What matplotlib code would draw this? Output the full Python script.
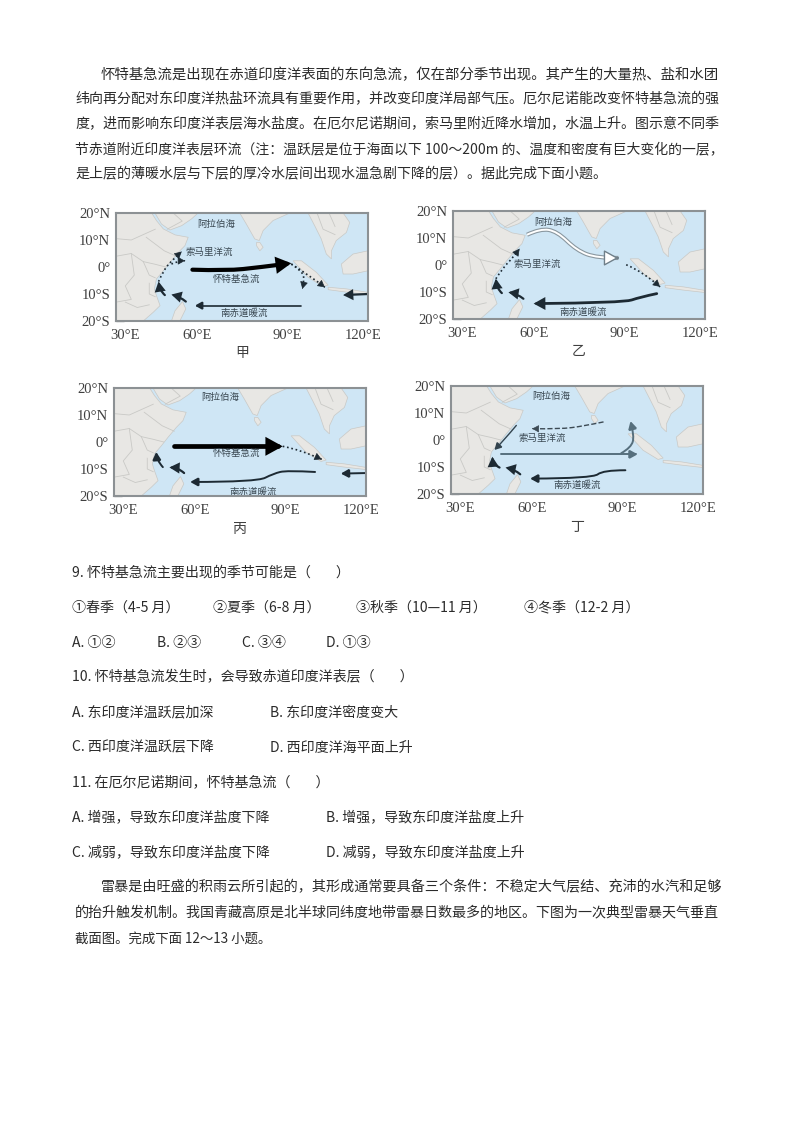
import matplotlib
matplotlib.use('Agg')
import matplotlib.pyplot as plt
from matplotlib.patches import FancyArrowPatch, Polygon
from matplotlib.path import Path

plt.rcParams['font.family'] = ['Noto Sans CJK SC', 'DejaVu Sans']

W, H = 800, 1132
TEXT_COLOR = '#2b2b2b'
LAND = '#e8e7e4'
SEA = '#cfe6f5'
BORDER = '#c9c9c6'
FRAME = '#8c9194'
CURRENT = '#1d2a33'

# ---- text of the page
intro_lines = [
    '怀特基急流是出现在赤道印度洋表面的东向急流，仅在部分季节出现。其产生的大量热、盐和水团',
    '纬向再分配对东印度洋热盐环流具有重要作用，并改变印度洋局部气压。厄尔尼诺能改变怀特基急流的强',
    '度，进而影响东印度洋表层海水盐度。在厄尔尼诺期间，索马里附近降水增加，水温上升。图示意不同季',
    '节赤道附近印度洋表层环流（注：温跃层是位于海面以下 100～200m 的、温度和密度有巨大变化的一层，',
    '是上层的薄暖水层与下层的厚冷水层间出现水温急剧下降的层）。据此完成下面小题。',
]
q9_title = '9. 怀特基急流主要出现的季节可能是（        ）'
q9_seasons = ['①春季（4-5 月）', '②夏季（6-8 月）', '③秋季（10—11 月）', '④冬季（12-2 月）']
q9_options = ['A. ①②', 'B. ②③', 'C. ③④', 'D. ①③']
q10_title = '10. 怀特基急流发生时，会导致赤道印度洋表层（        ）'
q10_options = ['A. 东印度洋温跃层加深', 'B. 东印度洋密度变大', 'C. 西印度洋温跃层下降', 'D. 西印度洋海平面上升']
q11_title = '11. 在厄尔尼诺期间，怀特基急流（        ）'
q11_options = ['A. 增强，导致东印度洋盐度下降', 'B. 增强，导致东印度洋盐度上升',
               'C. 减弱，导致东印度洋盐度下降', 'D. 减弱，导致东印度洋盐度上升']
outro_lines = [
    '雷暴是由旺盛的积雨云所引起的，其形成通常要具备三个条件：不稳定大气层结、充沛的水汽和足够',
    '的抬升触发机制。我国青藏高原是北半球同纬度地带雷暴日数最多的地区。下图为一次典型雷暴天气垂直',
    '截面图。完成下面 12～13 小题。',
]

# ---- map data, all (lon, lat)
africa = [(32.9, 20), (44.8, 20), (46.4, 17.2), (48.7, 14.1), (52.6, 11.9), (57, 11), (55.9, 7.9),
          (53.7, 5.4), (50.9, 1.7), (48.7, -1.4), (46.4, -4.4), (45.7, -8.1), (46.4, -10.6),
          (47.6, -14.3), (45.3, -16.8), (42, -20), (32.9, -20)]
arabia = [(45.9, 20), (48.1, 15.9), (50.9, 13.7), (54.8, 15.3), (58.1, 17.8), (60.3, 20)]
india = [(74.2, 20), (76.4, 15.9), (79.2, 10.4), (80.7, 9.8), (82, 13.5), (85.3, 17.2), (90.9, 20)]
sri_lanka = [(79.8, 9.1), (80.9, 9.1), (82, 7.3), (80.9, 6), (79.8, 7.9)]
indochina = [(97, 20), (99.2, 15.3), (101.4, 10.4), (103.1, 4.8), (104.8, 3), (104.8, 6), (106.4, 9.8),
             (109.8, 12.8), (110.9, 16.5), (108.7, 20)]
sumatra = [(92, 2.3), (94.8, 2.3), (99.8, -2), (103.7, -6.7), (102, -7.2), (97, -3.8)]
java = [(103.7, -7.5), (109.8, -8.1), (117, -9.4), (117, -10.2), (109.8, -9.3), (103.7, -8.4)]
borneo = [(108.1, 1.1), (112, 4.8), (117, 6), (117, -1.4), (112, -2.6), (108.7, -2.6)]
madagascar = [(51.4, -20), (52.6, -16.2), (55.1, -12.8), (56.2, -15.5), (54.2, -20)]
land_shapes = [africa, arabia, india, sri_lanka, indochina, sumatra, java, borneo, madagascar]

country_borders = [
    [(33, 10.5), (38, 10), (42, 12), (46, 14)],
    [(33, 4), (38, 5), (42, 2), (46, 1), (49.5, 0)],
    [(38, 5), (39, -3), (36, -7), (38, -12), (33, -13)],
    [(42, 2), (44, -3), (46, -4)],
    [(44, -6), (44, -10), (46, -11)],
    [(36, -13), (40, -15), (44, -14)],
    [(43, 11), (49, 6), (53, 4)],
    [(50, 14), (55, 17), (52, 20)],
    [(100, 20), (102, 14), (106, 12)],
    [(104, 20), (106, 15)],
]

lat_ticks = [-20, -10, 0, 10, 20]
lat_labels = ['20°S', '10°S', '0°', '10°N', '20°N']
lon_label_pos = [36, 60, 90, 115.4]
lon_labels = ['30°E', '60°E', '90°E', '120°E']
lon_marks = [60, 90]

# ---- currents, every panel: (points, line width, line style, colour)
jia_currents = [
    ([(47.1, -5.4), (48.7, -1.4), (51.4, 2.3), (54.8, 5.7)], 1.2, 'dotted', CURRENT),
    ([(51.4, 1.1), (53.7, 2.3), (55.9, 2.3)], 1.2, 'dotted', CURRENT),
    ([(49.2, -10.4), (47.6, -8.8), (47.1, -5.4)], 1.6, 'solid', CURRENT),
    ([(56.2, -12.8), (54.2, -11), (51.4, -10.2)], 1.6, 'solid', CURRENT),
    ([(94.8, -14.3), (59.2, -14.3)], 1.2, 'solid', CURRENT),
    ([(117, -10), (108.7, -10.4)], 1.6, 'solid', CURRENT),
    ([(58.4, -1), (69.8, -1.4), (80.9, -0.1), (91.4, 1.4)], 3.0, 'solid', '#000000'),
    ([(91.4, 1.1), (94.8, -1.4), (95.9, -4.4), (95.1, -8.1)], 1.2, 'dotted', CURRENT),
    ([(91.4, 1.1), (97.6, -3.2), (102.6, -7.5)], 1.2, 'dotted', CURRENT),
]
yi_currents = [
    ([(90.7, 0.1), (96.4, -2.6), (102, -8.1)], 1.2, 'dotted', CURRENT),
    ([(100.9, -10.6), (95.3, -11.9), (89.8, -14), (59.8, -14.3)], 2.0, 'solid', CURRENT),
    ([(47.2, -5.1), (49.8, -0.7), (52.6, 2.3), (55.1, 6)], 1.2, 'dotted', CURRENT),
    ([(49.2, -10.4), (47.6, -8.8), (47.2, -5.1)], 1.6, 'solid', CURRENT),
    ([(56.4, -12.5), (54.2, -10.6), (51.4, -10.1)], 1.6, 'solid', CURRENT),
]
yi_hollow = [(57.6, 11.2), (62, 13.5), (67.6, 12.5), (74.2, 5.4), (80.9, 2.6), (88.1, 2.6)]
bing_currents = [
    ([(53, -1.6), (89.2, -1.6)], 3.4, 'solid', '#000000'),
    ([(89.2, -1.6), (94.9, -2.8), (102.2, -6.4)], 1.2, 'dotted', CURRENT),
    ([(100, -11.1), (90.6, -10.5), (86.1, -11.7), (80.6, -14.8), (58.3, -14.8)], 1.4, 'solid', CURRENT),
    ([(117, -11.5), (108.6, -11.7)], 1.4, 'solid', CURRENT),
    ([(49.2, -9.3), (47.2, -6.8), (47, -3.7)], 1.4, 'solid', CURRENT),
    ([(56.3, -11.5), (54.4, -9.6), (51.4, -9.4)], 1.6, 'solid', CURRENT),
]
ding_currents = [
    ([(83.8, 6.7), (77.4, 5.2), (69.1, 4), (60, 4.2)], 1.0, 'dashed', '#3c4a54'),
    ([(49.7, -5.3), (95.2, -5.3)], 1.4, 'solid', '#566f7d'),
    ([(89.7, -4.9), (93, -2.8), (94.1, 1.5), (92.8, 7)], 1.4, 'solid', '#566f7d'),
    ([(54.7, 5.4), (50.8, 0.2), (47.4, -3.7)], 1.0, 'solid', '#33434d'),
    ([(49.1, -10.2), (46.9, -9), (46.7, -6.2)], 1.6, 'solid', CURRENT),
    ([(56, -12.7), (54.1, -10.9), (51.1, -10.2)], 1.6, 'solid', CURRENT),
    ([(91.1, -11.2), (83.6, -11.2), (80.2, -14.2), (59.3, -14.3)], 1.4, 'solid', CURRENT),
]

# ---- labels on the maps
jia_labels = [('阿拉伯海', 66.2, 15.6), ('索马里洋流', 64, 5.4), ('怀特基急流', 73.1, -4.4), ('南赤道暖流', 75.7, -17)]
yi_labels = [('阿拉伯海', 66.2, 15.9), ('索马里洋流', 61.1, 0.1), ('南赤道暖流', 76.2, -17.4)]
bing_labels = [('阿拉伯海', 68.3, 16.4), ('怀特基急流', 73.7, -4.3), ('南赤道暖流', 79.4, -18.5)]
ding_labels = [('阿拉伯海', 66.3, 16), ('索马里洋流', 63.3, 0.5), ('南赤道暖流', 75, -16.7)]

fig = plt.figure(figsize=(W / 100, H / 100), dpi=100, facecolor='white')
renderer = fig.canvas.get_renderer()


def page_text(x, y, s, right=None, size=10.1):
    '''y is the middle of the line in pixels, right stretches the line to that pixel'''
    t = fig.text(x / W, 1 - (y + 1.5) / H, s, va='center', ha='left', fontsize=size, color=TEXT_COLOR)
    if right is not None:
        width = t.get_window_extent(renderer).width
        t.set_fontsize(size * (right - x) / width)
    return t


def smooth_path(points):
    # quadratic pieces with the read points as control points
    if len(points) == 2:
        return Path(points, [Path.MOVETO, Path.LINETO])
    verts = [points[0]]
    codes = [Path.MOVETO]
    for i in range(1, len(points) - 1):
        end = points[i + 1]
        if i < len(points) - 2:
            end = ((points[i][0] + points[i + 1][0]) / 2, (points[i][1] + points[i + 1][1]) / 2)
        verts += [points[i], end]
        codes += [Path.CURVE3, Path.CURVE3]
    return Path(verts, codes)


def draw_head(ax, points, head, fc, ec, lw=0.5):
    # only the arrow head, pointing along the last piece of the curve
    (x0, y0), (x1, y1) = points[-2], points[-1]
    ax.add_patch(FancyArrowPatch((x1 - (x1 - x0) * 0.02, y1 - (y1 - y0) * 0.02), (x1, y1),
                                 arrowstyle=f'-|>,head_length={head},head_width={head * 0.55}',
                                 mutation_scale=1, shrinkA=0, shrinkB=0, lw=lw, fc=fc, ec=ec, zorder=5))


def draw_line(ax, points, lw, style, color):
    ax.add_patch(FancyArrowPatch(path=smooth_path(points), arrowstyle='-', mutation_scale=1,
                                 lw=lw, linestyle=style, color=color, capstyle='butt', zorder=4))


def draw_current(ax, points, lw, style, color):
    head = 2.8 + lw * 1.3
    if style == 'solid':
        ax.add_patch(FancyArrowPatch(path=smooth_path(points),
                                     arrowstyle=f'-|>,head_length={head},head_width={head * 0.55}',
                                     mutation_scale=1, lw=lw, color=color, joinstyle='miter', zorder=4))
    else:
        draw_line(ax, points, lw, style, color)
        draw_head(ax, points, head, color, color)


def draw_map(box, currents, labels, name):
    x0, y0, x1, y1 = box
    ax = fig.add_axes([x0 / W, 1 - y1 / H, (x1 - x0) / W, (y1 - y0) / H])
    ax.set_xlim(32.9, 117)
    ax.set_ylim(-20, 20)
    ax.set_facecolor(SEA)
    for shape in land_shapes:
        ax.add_patch(Polygon(shape, closed=True, fc=LAND, ec=BORDER, lw=0.5, zorder=2))
    for line in country_borders:
        ax.plot(*zip(*line), color=BORDER, lw=0.6, zorder=3)

    ax.set_xticks(lon_label_pos, lon_labels, family='Liberation Serif', fontsize=10.5, color='#404040')
    ax.tick_params(axis='x', which='major', length=0, pad=6)
    ax.set_xticks(lon_marks, minor=True)
    ax.tick_params(axis='x', which='minor', direction='in', length=4, color=FRAME, width=1)
    ax.set_yticks(lat_ticks, lat_labels, family='Liberation Serif', fontsize=10.5, color='#404040')
    ax.tick_params(axis='y', direction='in', length=6, color=FRAME, width=1, pad=4)
    for sp in ax.spines.values():
        sp.set_color(FRAME)
        sp.set_linewidth(1.5)
        sp.set_zorder(6)

    for points, lw, style, color in currents:
        draw_current(ax, points, lw, style, color)
    for text, lon, lat in labels:
        ax.text(lon, lat, text, ha='center', va='center', fontsize=6.8, color='#3a4852', zorder=5)
    ax.set_xlabel(name, fontsize=10, color='#404040', labelpad=3)
    return ax


ax_jia = draw_map((116, 213, 368, 321), jia_currents, jia_labels, '甲')
ax_yi = draw_map((453, 211, 705, 319), yi_currents, yi_labels, '乙')
ax_bing = draw_map((114, 388, 366, 496), bing_currents, bing_labels, '丙')
ax_ding = draw_map((451, 386, 703, 494), ding_currents, ding_labels, '丁')

# the hollow arrow on 乙
draw_line(ax_yi, yi_hollow, 3.0, 'solid', '#8a979f')
draw_line(ax_yi, yi_hollow, 1.4, 'solid', 'white')
draw_head(ax_yi, yi_hollow, 9, 'white', '#6f7f89', lw=1.0)

# ---- text blocks
intro_x = [101, 75, 75, 75, 75]
intro_y = [73, 98, 123, 148, 172]
intro_right = [720, 720, 720, 720, 606]
for s, x, y, r in zip(intro_lines, intro_x, intro_y, intro_right):
    page_text(x, y, s, right=r)

page_text(72, 571, q9_title)
for s, x in zip(q9_seasons, [72, 213, 356, 524]):
    page_text(x, 606, s)
for s, x in zip(q9_options, [72, 157, 242, 326]):
    page_text(x, 641, s)

page_text(72, 676, q10_title)
for s, x, y in zip(q10_options, [72, 270, 72, 270], [711, 711, 746, 746]):
    page_text(x, y, s)

page_text(72, 781, q11_title)
for s, x, y in zip(q11_options, [72, 326, 72, 326], [816, 816, 851, 851]):
    page_text(x, y, s)

for s, x, y, r in zip(outro_lines, [101, 75, 75], [886, 911, 937], [720, 720, 272]):
    page_text(x, y, s, right=r)

fig.savefig('out.png', dpi=100)
